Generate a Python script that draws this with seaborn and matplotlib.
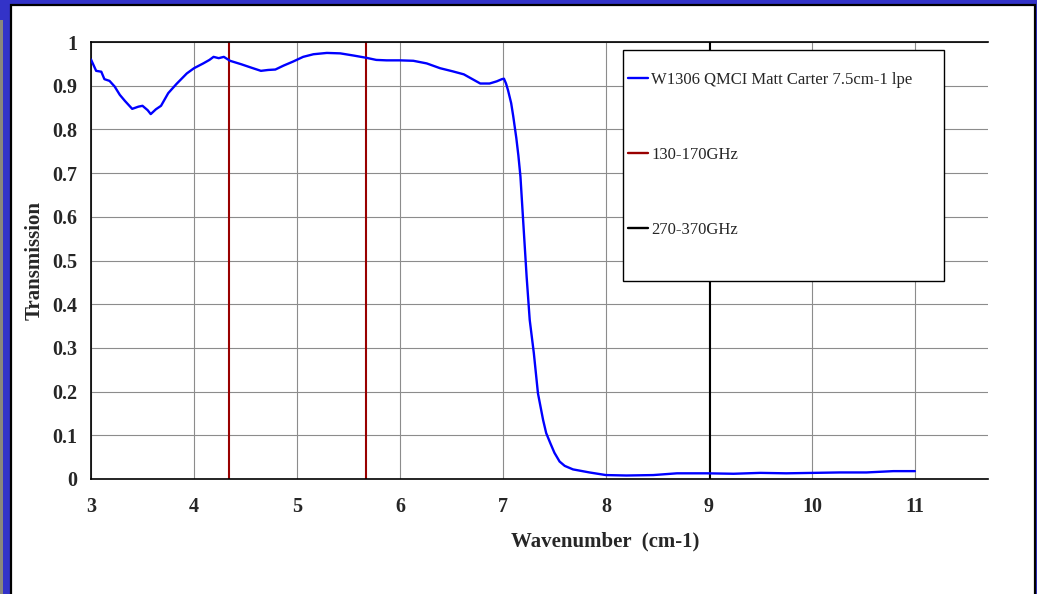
import matplotlib
matplotlib.use("Agg")
import matplotlib.pyplot as plt
import seaborn as sns
import pandas as pd
from matplotlib.patches import Rectangle
from matplotlib.lines import Line2D

# ---- data ----
wavenumber = [3.00, 3.05, 3.10, 3.13, 3.18, 3.23, 3.28, 3.33, 3.40, 3.46,
              3.50, 3.55, 3.58, 3.63, 3.68, 3.75, 3.83, 3.93, 4.00, 4.09,
              4.15, 4.19, 4.24, 4.29, 4.35, 4.46, 4.56, 4.65, 4.72, 4.79,
              4.87, 4.96, 5.06, 5.16, 5.29, 5.42, 5.55, 5.67, 5.77, 5.87,
              6.00, 6.13, 6.26, 6.39, 6.51, 6.62, 6.78, 6.87, 6.94, 6.99,
              7.01, 7.03, 7.05, 7.08, 7.10, 7.13, 7.15, 7.17, 7.20, 7.23,
              7.26, 7.30, 7.34, 7.39, 7.42, 7.46, 7.50, 7.55, 7.60, 7.68,
              7.84, 8.00, 8.20, 8.46, 8.69, 8.98, 9.24, 9.50, 9.75, 10.01,
              10.27, 10.53, 10.79, 11.00]
transmission = [0.960, 0.934, 0.932, 0.915, 0.911, 0.898, 0.879, 0.865, 0.847, 0.852,
                0.854, 0.844, 0.835, 0.846, 0.854, 0.883, 0.904, 0.928, 0.940, 0.951,
                0.959, 0.966, 0.963, 0.966, 0.957, 0.949, 0.941, 0.934, 0.936, 0.937,
                0.946, 0.955, 0.966, 0.972, 0.975, 0.974, 0.969, 0.964, 0.959, 0.958,
                0.958, 0.957, 0.951, 0.940, 0.933, 0.926, 0.905, 0.905, 0.910, 0.915,
                0.916, 0.905, 0.889, 0.860, 0.830, 0.780, 0.740, 0.692, 0.577, 0.463,
                0.364, 0.288, 0.196, 0.135, 0.105, 0.082, 0.060, 0.040, 0.030, 0.022,
                0.015, 0.009, 0.008, 0.009, 0.013, 0.013, 0.012, 0.014, 0.013, 0.014,
                0.015, 0.015, 0.018, 0.018]
band_150 = [4.336, 5.671]     # 130-170 GHz in cm-1
band_320 = [9.006, 12.342]    # 270-370 GHz in cm-1
series_labels = ["W1306 QMCI Matt Carter 7.5cm-1 lpe", "130-170GHz", "270-370GHz"]
x_ticks = [3, 4, 5, 6, 7, 8, 9, 10, 11]
y_ticks = [0, 0.1, 0.2, 0.3, 0.4, 0.5, 0.6, 0.7, 0.8, 0.9, 1.0]
y_tick_labels = ["0", "0.1", "0.2", "0.3", "0.4", "0.5", "0.6", "0.7", "0.8", "0.9", "1"]

# ---- style ----
sns.set_theme(style="white")
plt.rcParams["font.family"] = ["Liberation Serif", "DejaVu Serif"]

W, H = 1037, 594
fig = plt.figure(figsize=(W / 100, H / 100), dpi=100)
fig.patch.set_facecolor("#3333c8")

# frame: grey strip on far left, white panel with black border
fig.add_artist(Rectangle((0, 0), 3 / W, (H - 20) / H, transform=fig.transFigure,
                         facecolor="#8a877c", edgecolor="none", zorder=0))
fig.add_artist(Rectangle((11 / W, -0.01), (1034.5 - 11) / W, (H - 5) / H + 0.01,
                         transform=fig.transFigure, facecolor="white",
                         edgecolor="black", linewidth=1.6, zorder=0))

ax = fig.add_axes([91 / W, 1 - 479 / H, (988 - 91) / W, (479 - 42) / H])
ax.set_zorder(1)
ax.patch.set_alpha(0)

df = pd.DataFrame({"wn": wavenumber, "T": transmission})
sns.lineplot(data=df, x="wn", y="T", ax=ax, color="#0000ff", linewidth=1.7,
             sort=False, legend=False, zorder=3)
ax.vlines(band_150, 0, 1, color="#990000", linewidth=1.5, zorder=2)
ax.vlines(band_320, 0, 1, color="black", linewidth=1.5, zorder=2)

ax.set_xlim(3, 11.71)
ax.set_ylim(0, 1)
ax.set_xticks(x_ticks)
ax.set_xticklabels([str(v) for v in x_ticks])
ax.set_yticks(y_ticks)
ax.set_yticklabels(y_tick_labels)

ax.grid(True, color="#8c8c8c", linewidth=0.8)
ax.set_axisbelow(True)
for side in ["left", "bottom", "top"]:
    ax.spines[side].set_visible(True)
    ax.spines[side].set_color("black")
    ax.spines[side].set_linewidth(1.2)
ax.spines["right"].set_visible(False)

ax.tick_params(axis="both", direction="out", length=5, width=1, color="black",
               labelsize=14.5, pad=5)
ax.tick_params(axis="x", pad=8)
for lab in ax.get_xticklabels() + ax.get_yticklabels():
    lab.set_fontweight("bold")

ax.set_xlabel("Wavenumber  (cm-1)", fontsize=15, fontweight="bold")
ax.xaxis.set_label_coords((605 - 91) / (988 - 91), (479 - 541) / (479 - 42))
ax.xaxis.label.set_va("center")
ax.set_ylabel("Transmission", fontsize=15, fontweight="bold")
ax.yaxis.set_label_coords((35 - 91) / (988 - 91), (479 - 260) / (479 - 42))
ax.yaxis.label.set_va("center")

# legend box
ax.add_patch(Rectangle((623 / W, 1 - 281 / H), (944 - 623) / W, (281 - 50) / H,
                       transform=fig.transFigure, facecolor="white",
                       edgecolor="black", linewidth=1.0, clip_on=False, zorder=5))
handles = [Line2D([], [], color="#0000ff", linewidth=1.7),
           Line2D([], [], color="#990000", linewidth=1.7),
           Line2D([], [], color="black", linewidth=1.7)]
leg = ax.legend(handles, series_labels, loc="upper left",
                bbox_to_anchor=(628 / W, 1 - 72 / H), bbox_transform=fig.transFigure,
                frameon=False, fontsize=12, borderpad=0, borderaxespad=0,
                handlelength=1.2, handletextpad=0.2, labelspacing=3.55)
leg.set_zorder(6)

fig.savefig("out.png", dpi=100, facecolor=fig.get_facecolor())
